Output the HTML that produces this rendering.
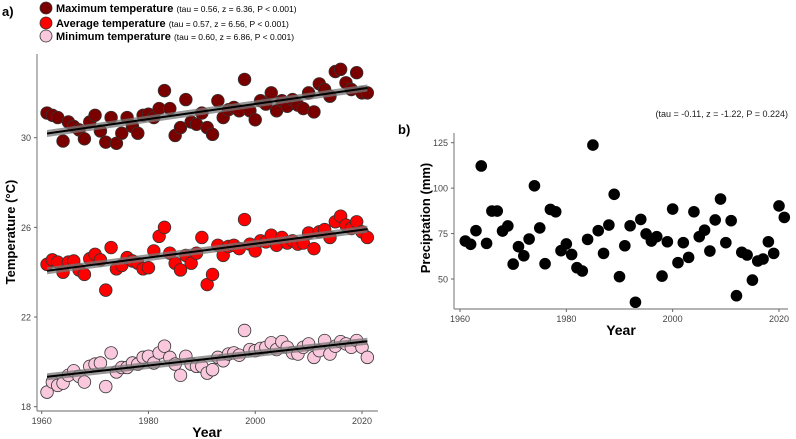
<!DOCTYPE html>
<html><head><meta charset="utf-8"><style>
body{margin:0;background:#fff;}
svg{display:block;font-family:"Liberation Sans",Arial,sans-serif;}
</style></head><body>
<svg id="chart" width="796" height="439" viewBox="0 0 796 439" xmlns="http://www.w3.org/2000/svg">
<text x="2" y="16" font-size="13" font-weight="bold">a)</text>
<g>
<g><circle cx="46" cy="8" r="6" fill="#7a0000" stroke="#333" stroke-width="0.8"/><text x="56" y="12" font-size="11" font-weight="bold">Maximum temperature <tspan font-size="8.5" font-weight="normal">(tau = 0.56, z = 6.36, P &lt; 0.001)</tspan></text></g>
<g><circle cx="46" cy="23" r="6" fill="#ff0000" stroke="#333" stroke-width="0.8"/><text x="56" y="27" font-size="11" font-weight="bold">Average temperature <tspan font-size="8.5" font-weight="normal">(tau  = 0.57, z = 6.56, P &lt; 0.001)</tspan></text></g>
<g><circle cx="46" cy="36" r="6" fill="#f9c8dc" stroke="#333" stroke-width="0.8"/><text x="56" y="40" font-size="11" font-weight="bold">Minimum temperature <tspan font-size="8.5" font-weight="normal">(tau = 0.60, z = 6.86, P &lt; 0.001)</tspan></text></g>
</g>
<text x="398" y="134" font-size="13" font-weight="bold">b)</text>
<text x="788" y="117" font-size="9" text-anchor="end" fill="#222">(tau = -0.11, z = -1.22, P = 0.224)</text>
<g id="ga"></g>
<g id="gb"></g>
</svg>
<script>
const years = [];
for (let y = 1961; y <= 2021; y++) years.push(y);
const maxTemp = [31.1,31.0,30.9,29.85,30.7,30.5,30.35,29.95,30.7,31.0,30.3,29.8,30.9,29.75,30.2,30.9,30.5,30.2,31.0,31.05,30.9,31.3,32.1,31.3,30.1,30.45,31.7,30.7,30.6,31.1,30.45,30.15,31.65,30.9,31.25,31.35,31.2,32.6,31.2,30.8,31.65,31.5,32.0,31.2,31.65,31.4,31.7,31.45,31.3,32.0,31.15,32.4,32.15,31.85,32.95,33.05,32.45,32.15,32.9,32.0,32.0];
const avgTemp = [24.35,24.55,24.45,24.0,24.45,24.5,24.1,23.9,24.6,24.8,24.55,23.2,25.1,24.15,24.3,24.65,24.5,24.4,24.15,24.2,24.95,25.6,26.0,24.85,24.4,24.1,24.75,24.4,24.85,25.55,23.45,23.9,25.2,24.75,25.15,25.2,25.05,26.35,25.25,24.95,25.4,25.35,25.65,25.2,25.55,25.3,25.4,25.25,25.3,25.75,25.05,25.8,25.9,25.55,26.25,26.5,26.1,25.95,26.25,25.8,25.55];
const minTemp = [18.65,19.1,18.95,19.05,19.4,19.6,19.35,19.1,19.8,19.9,19.95,18.9,20.4,19.55,19.75,19.75,19.95,19.9,20.2,20.25,19.95,20.4,20.7,20.2,19.9,19.4,20.25,19.9,19.8,19.8,19.5,19.65,20.2,20.05,20.35,20.4,20.3,21.4,20.55,20.5,20.6,20.65,20.85,20.55,20.9,20.65,20.4,20.35,20.65,20.8,20.2,20.5,20.95,20.35,20.7,20.9,20.8,20.65,20.95,20.65,20.2];
const precip = [70.9,69.1,76.6,112.2,69.6,87.4,87.4,76.4,79.2,58.2,67.8,62.8,72.0,101.3,78.1,58.4,88.3,87.0,65.6,69.3,63.5,56.2,54.4,71.8,123.7,76.6,64.1,79.7,96.6,51.3,68.3,79.3,37.2,82.8,74.8,70.9,73.3,51.6,70.5,88.5,59.0,70.0,61.9,87.0,73.3,76.9,65.4,82.5,94.0,70.0,82.1,40.8,64.7,63.2,49.4,59.9,61.0,70.5,64.1,90.2,83.9];
const xTicks = [1960,1980,2000,2020];
const tempTicks = [18,22,26,30];
const precipTicks = [50,75,100,125];

const NS = 'http://www.w3.org/2000/svg';
function mk(tag, attrs, parent){const e=document.createElementNS(NS,tag);for(const k in attrs)e.setAttribute(k,attrs[k]);parent.appendChild(e);return e;}

function linfit(xs, ys){const n=xs.length;let mx=0,my=0;for(let i=0;i<n;i++){mx+=xs[i];my+=ys[i];}mx/=n;my/=n;let sxy=0,sxx=0;for(let i=0;i<n;i++){sxy+=(xs[i]-mx)*(ys[i]-my);sxx+=(xs[i]-mx)**2;}const b=sxy/sxx;return [my-b*mx,b];}

// Panel a
const ga = document.getElementById('ga');
const ax = v => 41.7 + (v-1960)*(362-41.7)/60;
const ay = v => 406.7 - (v-18)*(406.7-137.7)/12;
mk('line',{x1:37,y1:54,x2:37,y2:411,stroke:'#888','stroke-width':1.2},ga);
mk('line',{x1:37,y1:411,x2:378,y2:411,stroke:'#888','stroke-width':1.2},ga);
tempTicks.forEach(t=>{
  const tk=mk('line',{x1:34,y1:ay(t),x2:37,y2:ay(t),stroke:'#666'},ga);
  
  
  const tx=mk('text',{x:31,y:ay(t)+3.5,'font-size':9,'text-anchor':'end',fill:'#444'},ga);
  tx.textContent=t;
  
  
});
xTicks.forEach(t=>{
  mk('line',{x1:ax(t),y1:411,x2:ax(t),y2:414,stroke:'#666'},ga);
  const tx=mk('text',{x:ax(t),y:424,'font-size':9,'text-anchor':'middle',fill:'#444'},ga);
  tx.textContent=t;
  
  
});
const xta=mk('text',{x:207,y:437,'font-size':14,'font-weight':'bold','text-anchor':'middle'},ga);
xta.textContent='Year';


const yta=mk('text',{x:0,y:0,'font-size':13,'font-weight':'bold','text-anchor':'middle',transform:'translate(15,232) rotate(-90)'},ga);
yta.textContent='Temperature (°C)';



const series = [[maxTemp,'#7a0000','max'],[avgTemp,'#ff0000','avg'],[minTemp,'#f9c8dc','min']];
series.forEach(([vals,col,nm])=>{
  const g=mk('g',{},ga);
  
  
  vals.forEach((v,i)=>{
    const c=mk('circle',{cx:ax(years[i]),cy:ay(v),r:6.3,fill:col,stroke:'#333','stroke-width':0.8},g);
    
    
  });
  const [a,b]=linfit(years,vals);
  const x0=1961,x1=2021;
  const band=mk('polygon',{points:`${ax(x0)},${ay(a+b*x0)-3.5} ${ax(x1)},${ay(a+b*x1)-3.5} ${ax(x1)},${ay(a+b*x1)+3.5} ${ax(x0)},${ay(a+b*x0)+3.5}`,fill:'#777','fill-opacity':0.75},g);
  
  
  const ln=mk('line',{x1:ax(x0),y1:ay(a+b*x0),x2:ax(x1),y2:ay(a+b*x1),stroke:'#000','stroke-width':2},g);
  
  
});

// Panel b
const gb = document.getElementById('gb');
const bx = v => 460 + (v-1960)*(779-460)/60;
const by = v => 279 - (v-50)*(279-142.7)/75;
mk('line',{x1:454,y1:133,x2:454,y2:309,stroke:'#888','stroke-width':1.2},gb);
mk('line',{x1:454,y1:309,x2:788,y2:309,stroke:'#888','stroke-width':1.2},gb);
precipTicks.forEach(t=>{
  mk('line',{x1:451,y1:by(t),x2:454,y2:by(t),stroke:'#666'},gb);
  const tx=mk('text',{x:448,y:by(t)+3.5,'font-size':9,'text-anchor':'end',fill:'#444'},gb);
  tx.textContent=t;
  
  
});
xTicks.forEach(t=>{
  mk('line',{x1:bx(t),y1:309,x2:bx(t),y2:312,stroke:'#666'},gb);
  const tx=mk('text',{x:bx(t),y:322,'font-size':9,'text-anchor':'middle',fill:'#444'},gb);
  tx.textContent=t;
  
  
});
const xtb=mk('text',{x:621,y:335,'font-size':14,'font-weight':'bold','text-anchor':'middle'},gb);
xtb.textContent='Year';


const ytb=mk('text',{x:0,y:0,'font-size':13,'font-weight':'bold','text-anchor':'middle',transform:'translate(430,218) rotate(-90)'},gb);
ytb.textContent='Preciptation (mm)';


precip.forEach((v,i)=>{
  const c=mk('circle',{cx:bx(years[i]),cy:by(v),r:5.8,fill:'#000'},gb);
  
  
});
</script>
</body></html>
